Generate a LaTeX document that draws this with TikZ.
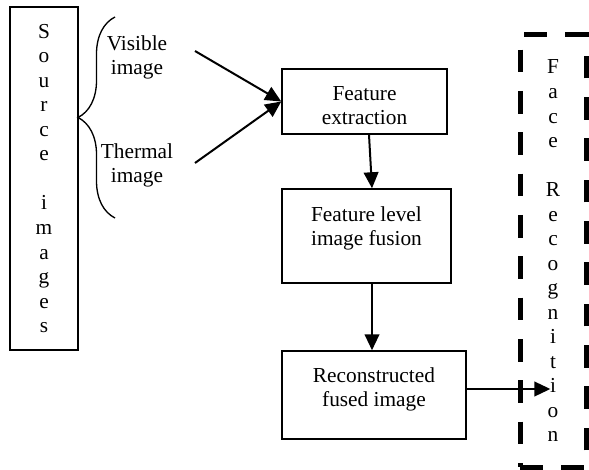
\documentclass[tikz,border=0pt]{standalone}
\usepackage{fontspec}
\setmainfont{Liberation Serif}
\usetikzlibrary{arrows.meta,calc,decorations.pathreplacing}

\begin{document}
\begin{tikzpicture}[x=0.75pt,y=0.75pt,yscale=-1,xscale=1,
  every node/.style={font=\fontsize{16}{18.4}\selectfont},
  box/.style={draw, line width=1.1pt, inner sep=0pt},
  txt/.style={anchor=north, inner sep=0pt, align=center},
  arr/.style={line width=1.5pt, -{Triangle[length=12pt,width=11pt]}}]
  \useasboundingbox (0,0) rectangle (589,470);

  %Shape: Source images
  \node[box, minimum width=51pt, minimum height=257.25pt, align=center] (src) at (44,178.5) {S\\o\\u\\r\\c\\e\\\mbox{}\\i\\m\\a\\g\\e\\s};
  %Shape: Brace
  \coordinate (brtop) at (115,17);
  \coordinate (brbot) at (115,218);
  \draw [line width=1pt, decorate, decoration={brace, amplitude=27.75pt}] (brbot) -- (brtop);

  % Text Node
  \node[txt] (vis) at (137,35) {Visible\\image};
  % Text Node
  \node[txt] (thm) at (137,143) {Thermal\\image};
  \coordinate (vis-s) at (195,51);
  \coordinate (thm-s) at (195,163);

  %Shape: Rectangles
  \node[box, minimum width=123.75pt, minimum height=48.75pt] (fe) at (364.5,101.5) {};
  \node[box, minimum width=126.75pt, minimum height=70.5pt] (fus) at (366.5,236) {};
  \node[box, minimum width=138pt, minimum height=66pt] (rec) at (374,395) {};
  % Text Node
  \node[txt] (fe-t) at (364.5,86) {Feature\\extraction};
  % Text Node
  \node[txt] (fus-t) at (366.5,206) {Feature level\\image fusion};
  % Text Node
  \node[txt] (rec-t) at (374,367) {Reconstructed\\fused image};

  %Shape: Face recognition (dashed)
  \node[draw, line width=3.75pt, dash pattern=on 17pt off 14pt, minimum width=49.5pt, minimum height=324pt, inner sep=0pt, align=center] (face) at (553,251) {F\\a\\c\\e\\\mbox{}\\R\\e\\c\\o\\g\\n\\i\\t\\i\\o\\n};

  %Straight Lines
  \coordinate (fe-o) at ($(fe.south)+(4.5,0)$);
  \coordinate (fus-i) at ($(fus.north)+(5.5,0)$);
  \coordinate (fus-o) at ($(fus.south)+(5.5,0)$);
  \coordinate (rec-o) at ($(rec.east)+(0,-6)$);
  \draw [arr] (vis-s) -- (fe.west);
  \draw [arr] (thm-s) -- (fe.west);
  \draw [arr] (fe-o) -- (fus-i);
  \draw [arr] (fus-o) -- (fus-o |- rec.north);
  \draw [arr, shorten >=2pt] (rec-o) -- (rec-o -| face.center);

\end{tikzpicture}
\end{document}
